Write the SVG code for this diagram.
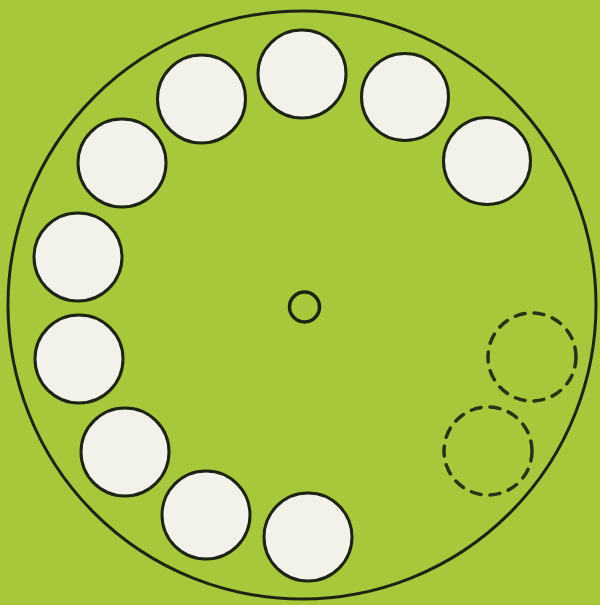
<svg xmlns="http://www.w3.org/2000/svg" width="600" height="605" viewBox="0 0 600 605">
<style>
.hole{fill:#f2f1ea;stroke:#1e2413;stroke-width:3}
.dash{fill:none;stroke:#2a3316;stroke-width:3.5;stroke-dasharray:10 9;stroke-linecap:round}
</style>
<rect width="600" height="605" fill="#a6c83a"/>
<circle id="plate" cx="302" cy="305" r="294" fill="none" stroke="#1e2413" stroke-width="3"/>
<circle id="center" cx="304.5" cy="307" r="15" fill="none" stroke="#1e2413" stroke-width="3.5"/>
<g id="holes">
<circle class="hole" cx="302" cy="74" r="44"/>
<circle class="hole" cx="405" cy="97" r="43.5"/>
<circle class="hole" cx="487" cy="161" r="43.5"/>
<circle class="hole" cx="201.5" cy="99" r="44"/>
<circle class="hole" cx="122" cy="163" r="44"/>
<circle class="hole" cx="78" cy="257" r="44"/>
<circle class="hole" cx="79" cy="359" r="44"/>
<circle class="hole" cx="125" cy="452" r="44"/>
<circle class="hole" cx="206" cy="515" r="44"/>
<circle class="hole" cx="308" cy="537" r="44"/>
</g>
<g id="dashed">
<circle class="dash" cx="532" cy="357" r="44"/>
<circle class="dash" cx="488" cy="451" r="44"/>
</g>
</svg>
